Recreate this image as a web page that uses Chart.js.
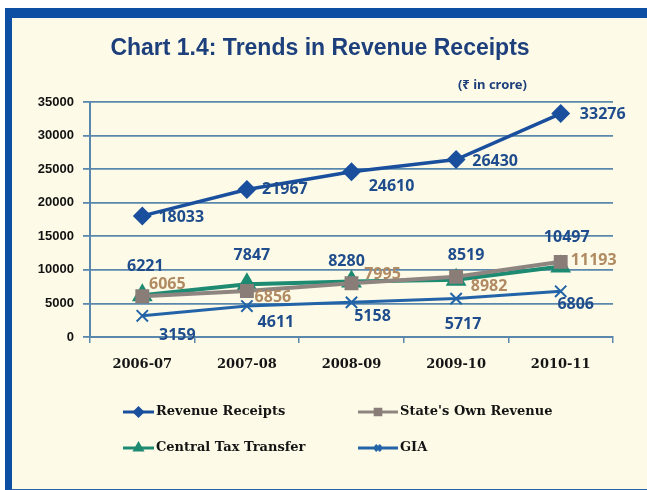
<!DOCTYPE html>
<html>
<head>
<meta charset="utf-8">
<script src="https://cdn.jsdelivr.net/npm/chart.js@4.4.1/dist/chart.umd.min.js"></script>
<style>
  html, body { margin: 0; padding: 0; background: #ffffff; overflow: hidden; }
  #frame {
    position: absolute; left: 5px; top: 8px; width: 660px; height: 471px;
    border-left: 7px solid #0d4fa3; border-top: 10px solid #0d4fa3; border-bottom: 4px solid #2a63a8;
    background: #fdfbe7;
  }
  #wrap { position: absolute; left: 0; top: 0; width: 647px; height: 490px; }
</style>
</head>
<body>
<div id="frame"></div>
<div id="wrap"><canvas id="chart" width="647" height="490"></canvas></div>
<script>
// Data (Rs in crore)
const categories = ['2006-07', '2007-08', '2008-09', '2009-10', '2010-11'];
const revenueReceipts = [18033, 21967, 24610, 26430, 33276];
const statesOwnRevenue = [6065, 6856, 7995, 8982, 11193];
const centralTaxTransfer = [6221, 7847, 8280, 8519, 10497];
const gia = [3159, 4611, 5158, 5717, 6806];
const yMax = 35000;
const yStep = 5000;

const titleText = 'Chart 1.4: Trends in Revenue Receipts';
const unitText = '(\u20B9 in crore)';

// where each value label sits relative to its point (dx, dy)
const labelOffsets = [
    [[39, 2], [38, 0], [40, 15], [39, 2], [42, 1]],
    [[25, -12], [26, 6], [31, -9], [33, 10], [33, -1]],
    [[3, -29], [5, -29], [-5, -20], [10, -24], [6, -29]],
    [[35, 20], [29, 16], [21, 14], [7, 26], [15, 13]]
];
const labelColors = ['#1f4c8c', '#b08a62', '#1f4c8c', '#1f4c8c'];

const gridColor = '#5a88ad';

// value labels next to the points
const valueLabels = {
    id: 'valueLabels',
    afterDatasetsDraw(chart) {
        const ctx = chart.ctx;
        ctx.save();
        ctx.font = 'bold 16px "Open Sans", sans-serif';
        ctx.textAlign = 'center';
        ctx.textBaseline = 'middle';
        chart.data.datasets.forEach((ds, di) => {
            const meta = chart.getDatasetMeta(di);
            ctx.fillStyle = labelColors[di];
            meta.data.forEach((pt, i) => {
                const off = labelOffsets[di][i];
                ctx.fillText(String(ds.data[i]), pt.x + off[0], pt.y + off[1]);
            });
        });
        ctx.restore();
    }
};

// title, unit note and the 2x2 legend
const decorations = {
    id: 'decorations',
    afterDraw(chart) {
        const ctx = chart.ctx;
        ctx.save();
        ctx.fillStyle = '#1d3f7c';
        ctx.textBaseline = 'middle';
        ctx.textAlign = 'center';
        ctx.font = 'bold 23px "Liberation Sans Narrow", "Liberation Sans", sans-serif';
        ctx.fillText(titleText, 320, 49);
        ctx.textAlign = 'right';
        ctx.font = 'bold 13px "Liberation Sans Narrow", "Noto Sans", sans-serif';
        ctx.fillText(unitText, 527, 85);

        const slots = [[123, 412], [358, 412], [123, 448], [358, 448]];
        chart.data.datasets.forEach((ds, di) => {
            const [x, y] = slots[di];
            const lineEnd = di % 2 === 0 ? x + 31 : x + 40;
            ctx.strokeStyle = ds.borderColor;
            ctx.lineWidth = 3;
            ctx.beginPath();
            ctx.moveTo(x, y);
            ctx.lineTo(lineEnd, y);
            ctx.stroke();
            ctx.fillStyle = ds.pointBackgroundColor;
            ctx.strokeStyle = ds.pointBorderColor;
            Chart.helpers.drawPoint(ctx, {
                pointStyle: ds.pointStyle,
                radius: 4,
                borderWidth: ds.pointBorderWidth || 1
            }, (x + lineEnd) / 2, y);
            ctx.fillStyle = '#141414';
            ctx.textAlign = 'left';
            ctx.font = 'bold 13px "DejaVu Serif", serif';
            ctx.fillText(ds.label, lineEnd + 2, y);
        });
        ctx.restore();
    }
};

new Chart(document.getElementById('chart'), {
    type: 'line',
    data: {
        labels: categories,
        datasets: [
            {
                label: 'Revenue Receipts',
                data: revenueReceipts,
                borderColor: '#1a4f9e',
                borderWidth: 3.5,
                pointStyle: 'rectRot',
                pointRadius: 7,
                pointBackgroundColor: '#1a4f9e',
                pointBorderColor: '#1a4f9e'
            },
            {
                label: "State's Own Revenue",
                data: statesOwnRevenue,
                borderColor: '#8f8580',
                borderWidth: 4,
                pointStyle: 'rect',
                pointRadius: 7,
                pointBackgroundColor: '#8a7d78',
                pointBorderColor: '#8a7d78'
            },
            {
                label: 'Central Tax Transfer',
                data: centralTaxTransfer,
                borderColor: '#1d8a72',
                borderWidth: 4,
                pointStyle: 'triangle',
                pointRadius: 8,
                pointBackgroundColor: '#1d8a72',
                pointBorderColor: '#1d8a72'
            },
            {
                label: 'GIA',
                data: gia,
                borderColor: '#2363a8',
                borderWidth: 3,
                pointStyle: 'crossRot',
                pointRadius: 8,
                pointBorderWidth: 2,
                pointBackgroundColor: '#2363a8',
                pointBorderColor: '#2363a8'
            }
        ]
    },
    options: {
        responsive: false,
        animation: false,
        layout: { padding: { left: 0, right: 34, top: 102, bottom: 0 } },
        plugins: {
            legend: { display: false },
            title: { display: false },
            tooltip: { enabled: false }
        },
        scales: {
            x: {
                offset: true,
                afterFit(scale) { scale.height = 153; },
                grid: {
                    offset: true,
                    drawOnChartArea: false,
                    drawTicks: true,
                    tickLength: 6,
                    color: gridColor,
                    lineWidth: 1.5
                },
                border: { color: gridColor, width: 2 },
                ticks: {
                    color: '#141414',
                    padding: 14,
                    maxRotation: 0,
                    font: { family: '"DejaVu Serif", serif', size: 13, weight: 'bold' }
                }
            },
            y: {
                min: 0,
                max: yMax,
                afterFit(scale) { scale.width = 90; },
                grid: {
                    color: gridColor,
                    lineWidth: 1.8,
                    tickLength: 7
                },
                border: { color: gridColor, width: 2 },
                ticks: {
                    stepSize: yStep,
                    color: '#111111',
                    padding: 9,
                    font: { family: '"Liberation Sans", sans-serif', size: 13, weight: 'bold' },
                    callback: (value) => String(value)
                }
            }
        }
    },
    plugins: [valueLabels, decorations]
});
</script>
</body>
</html>
